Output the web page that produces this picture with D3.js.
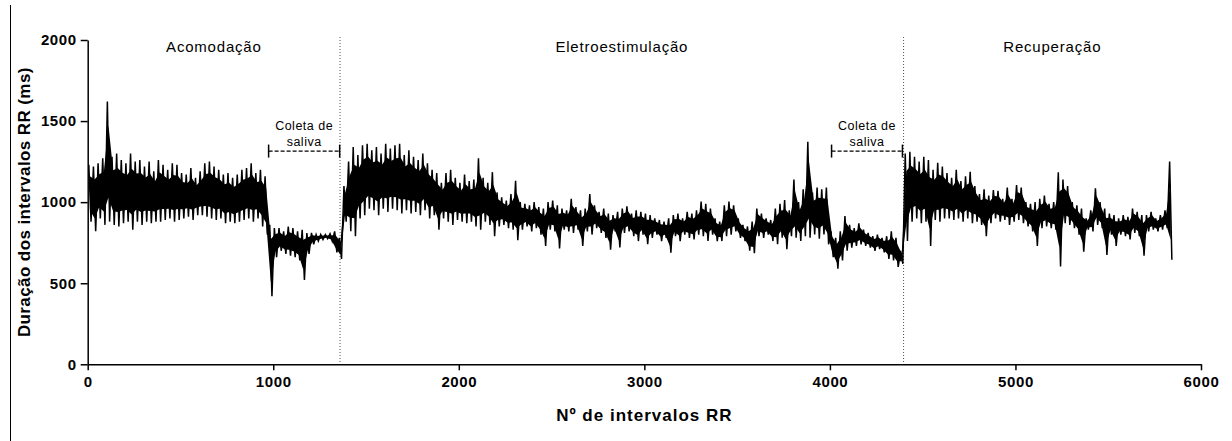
<!DOCTYPE html>
<html>
<head>
<meta charset="utf-8">
<script src="https://cdn.jsdelivr.net/npm/d3@7"></script>
<style>
	body { margin: 0; background: #fff; }
	svg { display: block; font-family: "Liberation Sans", Arial, sans-serif; }
</style>
</head>
<body>
<div id="chart"></div>
<script>
// RR series: highest and lowest value in every block of 25 intervals
const binSize = 25;
const rrHigh = [
	1230, 1220, 1240, 1270, 1620, 1280, 1300, 1260, 1240, 1300,
	1250, 1260, 1220, 1250, 1190, 1260, 1230, 1200, 1240, 1230,
	1180, 1170, 1210, 1150, 1190, 1240, 1250, 1220, 1200, 1170,
	1180, 1150, 1170, 1200, 1210, 1240, 1180, 1200, 1160, 860,
	840, 840, 820, 850, 840, 820, 830, 810, 810, 800,
	800, 800, 805, 820, 780, 1100, 1250, 1340, 1290, 1350,
	1360, 1320, 1340, 1300, 1360, 1330, 1350, 1360, 1290, 1320,
	1280, 1260, 1300, 1240, 1200, 1180, 1120, 1180, 1200, 1150,
	1120, 1170, 1130, 1140, 1270, 1150, 1120, 1185, 1060, 1030,
	1010, 1050, 1132, 1000, 990, 980, 1000, 970, 960, 1000,
	1010, 980, 960, 950, 1020, 970, 950, 960, 1050, 980,
	940, 960, 930, 920, 940, 960, 975, 930, 950, 940,
	930, 920, 900, 890, 880, 900, 920, 930, 900, 940,
	930, 950, 1003, 990, 960, 900, 880, 980, 1003, 980,
	900, 860, 850, 880, 960, 930, 900, 890, 960, 990,
	1013, 950, 1140, 1000, 1080, 1373, 1060, 1090, 1080, 1090,
	820, 780, 820, 915, 860, 840, 870, 830, 810, 790,
	800, 780, 790, 820, 780, 700, 1300, 1310, 1280, 1250,
	1280, 1260, 1200, 1243, 1220, 1180, 1150, 1200, 1130, 1160,
	1188, 1100, 1050, 1080, 1040, 1075, 1070, 1020, 1090, 1020,
	1105, 1090, 1000, 990, 1000, 1020, 1040, 990, 1000, 1184,
	1140, 1100, 1000, 980, 960, 900, 950, 1085, 1000, 960,
	930, 920, 900, 920, 910, 960, 940, 920, 920, 940,
	900, 920, 950, 1250
];
const rrLow = [
	880, 820, 900, 860, 880, 860, 850, 870, 880, 830,
	880, 860, 880, 870, 880, 880, 890, 900, 880, 890,
	900, 910, 890, 920, 920, 910, 900, 890, 900, 870,
	880, 870, 880, 890, 900, 880, 900, 850, 800, 420,
	660, 700, 680, 670, 660, 640, 520, 680, 740, 760,
	770, 775, 760, 690, 650, 880, 820, 790, 900, 920,
	960, 950, 920, 960, 940, 960, 950, 930, 950, 930,
	940, 920, 950, 900, 920, 830, 900, 880, 860, 890,
	880, 870, 880, 850, 830, 880, 860, 790, 850, 860,
	840, 830, 765, 830, 850, 820, 840, 800, 730, 830,
	820, 715, 830, 820, 810, 830, 730, 820, 800, 840,
	810, 780, 707, 820, 720, 810, 820, 790, 760, 800,
	740, 780, 800, 760, 780, 688, 790, 760, 800, 780,
	770, 800, 790, 760, 800, 760, 760, 790, 800, 820,
	780, 760, 700, 685, 790, 780, 800, 760, 740, 780,
	710, 790, 780, 760, 790, 780, 800, 775, 800, 740,
	660, 590, 640, 700, 720, 730, 740, 730, 720, 700,
	710, 690, 650, 640, 600, 620, 760, 880, 900, 870,
	880, 730, 890, 880, 900, 900, 890, 900, 880, 900,
	870, 880, 860, 790, 870, 900, 880, 890, 860, 880,
	890, 870, 850, 820, 730, 840, 850, 840, 830, 603,
	870, 860, 840, 800, 695, 830, 820, 860, 840, 675,
	800, 730, 800, 790, 770, 810, 790, 670, 820, 830,
	820, 830, 840, 645
];

const xTicks = [0, 1000, 2000, 3000, 4000, 5000, 6000];
const yTicks = [0, 500, 1000, 1500, 2000];

// protocol phases (start / end in RR interval number)
const phaseNames = ['Acomodação', 'Eletroestimulação', 'Recuperação'];
const phaseStarts = [0, 1360, 4397];
const phaseEnds = [1360, 4397, 6000];
// saliva collection windows
const salivaStarts = [975, 4009];
const salivaEnds = [1358, 4391];
const salivaLevel = 1315;

const width = 1232, height = 441;
const margin = { top: 40, right: 31, bottom: 76.7, left: 87.7 };

const svg = d3
	.select('#chart')
	.append('svg')
	.attr('width', width)
	.attr('height', height);

const x = d3.scaleLinear().domain([0, 6000]).range([margin.left, width - margin.right]);
const y = d3.scaleLinear().domain([0, 2000]).range([height - margin.bottom, margin.top]);

// frame line on the left edge
svg.append('line')
	.attr('x1', 10.5).attr('x2', 10.5)
	.attr('y1', 5).attr('y2', height)
	.attr('stroke', '#000').attr('stroke-width', 1);

// phase separators
phaseStarts.slice(1).forEach((p) => {
	svg.append('line')
		.attr('x1', x(p)).attr('x2', x(p))
		.attr('y1', y(2000) - 3).attr('y2', y(0))
		.attr('stroke', '#555')
		.attr('stroke-width', 1)
		.attr('stroke-dasharray', '1,2');
});

// RR series: the overlapping beats make a solid core, the extremes stick out as spikes
const bins = rrHigh.map((h, i) => ({ i, hi: h, lo: rrLow[i] }));
const core = 0.2;
const band = d3.area()
	.x((d) => x(d.i * binSize + 12))
	.y0((d) => y(d.lo + (d.hi - d.lo) * core))
	.y1((d) => y(d.hi - (d.hi - d.lo) * core));
svg.append('path')
	.attr('d', band(bins))
	.attr('fill', '#000');

const points = [];
bins.forEach((b) => {
	points.push([b.i * binSize + 6, b.hi]);
	points.push([b.i * binSize + 18, b.lo]);
});
const rrLine = d3.line().x((d) => x(d[0])).y((d) => y(d[1]));
svg.append('path')
	.attr('d', rrLine(points))
	.attr('fill', 'none')
	.attr('stroke', '#000')
	.attr('stroke-width', 1.5);

// axes
const yAxis = svg.append('g')
	.attr('transform', `translate(${margin.left},0)`)
	.call(d3.axisLeft(y).tickValues(yTicks).tickFormat(d3.format('d')).tickSize(7).tickSizeOuter(0).tickPadding(4));
const xAxis = svg.append('g')
	.attr('transform', `translate(0,${y(0)})`)
	.call(d3.axisBottom(x).tickValues(xTicks).tickFormat(d3.format('d')).tickSize(6).tickSizeOuter(0).tickPadding(6));
[yAxis, xAxis].forEach((a) => {
	a.selectAll('path, line').attr('stroke', '#000').attr('stroke-width', 1.5);
	a.selectAll('text')
		.attr('fill', '#000')
		.style('font-family', '"Liberation Sans", Arial, sans-serif')
		.style('font-size', '15px')
		.style('font-weight', 'bold')
		.style('letter-spacing', '0.6px');
});

// axis titles
svg.append('text')
	.attr('transform', `translate(30,${(y(0) + y(2000)) / 2}) rotate(-90)`)
	.attr('text-anchor', 'middle')
	.style('font-size', '17px')
	.style('font-weight', 'bold')
	.style('letter-spacing', '0.4px')
	.text('Duração dos intervalos RR (ms)');
svg.append('text')
	.attr('x', (x(0) + x(6000)) / 2)
	.attr('y', 421)
	.attr('text-anchor', 'middle')
	.style('font-size', '17px')
	.style('font-weight', 'bold')
	.style('letter-spacing', '1px')
	.text('Nº de intervalos RR');

// phase names
phaseNames.forEach((n, i) => {
	svg.append('text')
		.attr('x', x((phaseStarts[i] + phaseEnds[i]) / 2))
		.attr('y', 52)
		.attr('text-anchor', 'middle')
		.style('font-size', '15px')
		.style('letter-spacing', '0.8px')
		.text(n);
});

// saliva brackets
salivaStarts.forEach((s, i) => {
	const e = salivaEnds[i];
	const g = svg.append('g');
	g.append('line')
		.attr('x1', x(s)).attr('x2', x(e))
		.attr('y1', y(salivaLevel)).attr('y2', y(salivaLevel))
		.attr('stroke', '#000').attr('stroke-width', 1.3)
		.attr('stroke-dasharray', '4,2');
	[s, e].forEach((v) => {
		g.append('line')
			.attr('x1', x(v)).attr('x2', x(v))
			.attr('y1', y(salivaLevel) - 6.5).attr('y2', y(salivaLevel) + 6.5)
			.attr('stroke', '#000').attr('stroke-width', 1.5);
	});
	const cx = x((s + e) / 2);
	g.append('text')
		.attr('x', cx).attr('y', 129.5)
		.attr('text-anchor', 'middle')
		.style('font-size', '12.5px')
		.style('letter-spacing', '0.5px')
		.text('Coleta de');
	g.append('text')
		.attr('x', cx).attr('y', 146)
		.attr('text-anchor', 'middle')
		.style('font-size', '12.5px')
		.style('letter-spacing', '0.5px')
		.text('saliva');
});
</script>
</body>
</html>
